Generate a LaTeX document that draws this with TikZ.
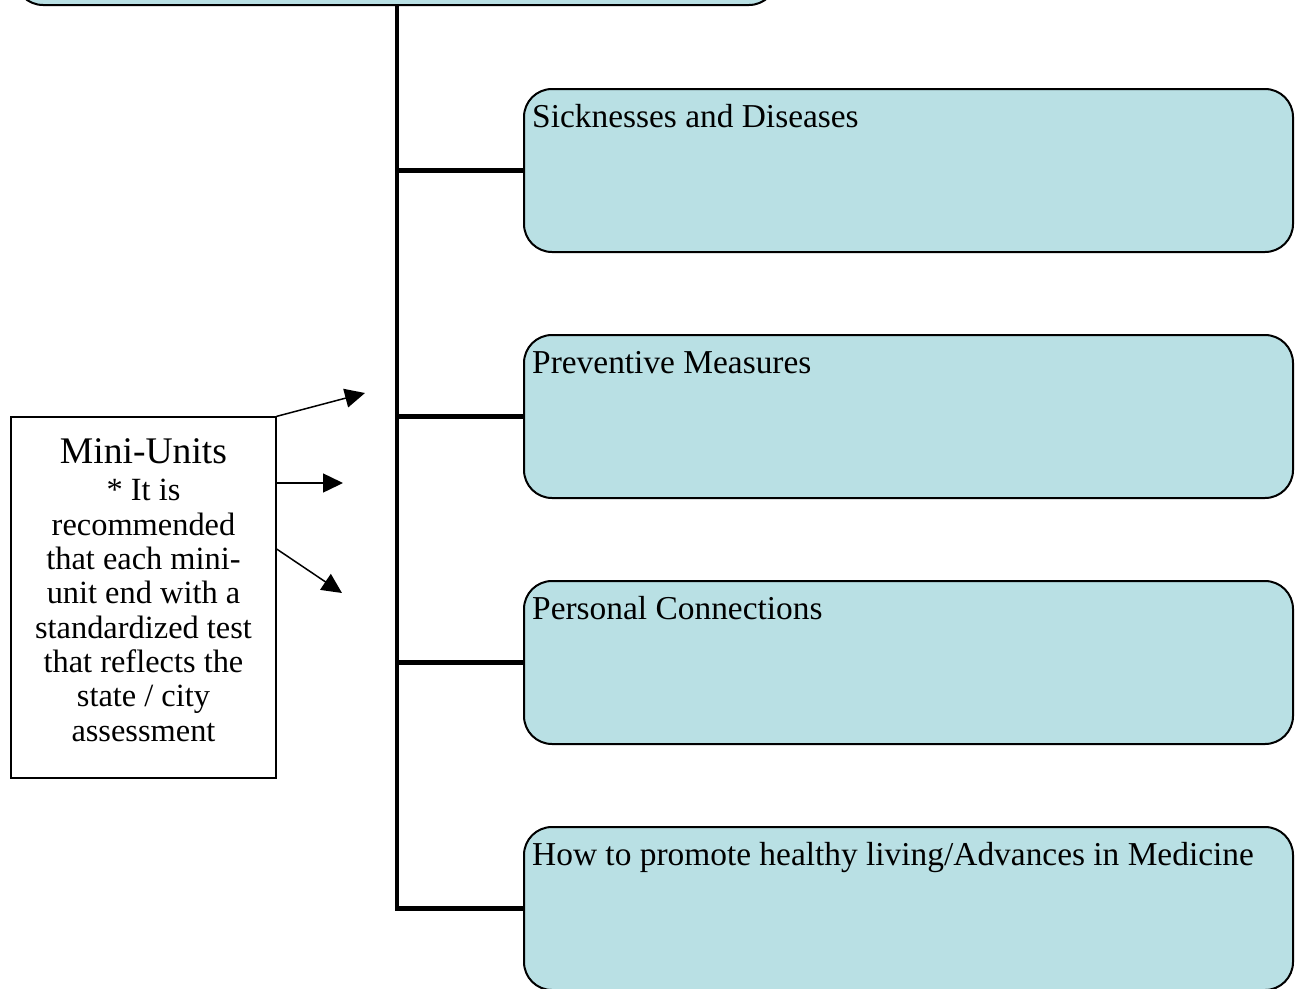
\documentclass[tikz,border=0pt]{standalone}
\usepackage{fontspec}
\setmainfont{Liberation Serif}
\usetikzlibrary{positioning,arrows.meta}
\definecolor{unitblue}{RGB}{185,224,228}

\begin{document}
\begin{tikzpicture}[x=1pt,y=-1pt,
		unitbox/.style={rectangle, rounded corners=28pt, draw=black, fill=unitblue, line width=2pt, minimum width=769pt, minimum height=163pt},
		unittext/.style={anchor=base west, inner sep=0pt, font=\fontsize{33.4}{40}\selectfont},
		trunk/.style={line width=4.5pt},
		pointer/.style={line width=1.5pt, -{Triangle[length=20pt,width=19pt]}}]
		\clip (0,0) rectangle (1295,988);
		\node[unitbox, minimum width=762pt, minimum height=120pt] (top) at (396,-55) {};
		\node[unitbox] (sick) at (908.5,170.5) {};
		\node[unitbox] (prev) at (908.5,416.5) {};
		\node[unitbox] (pers) at (908.5,662.5) {};
		\node[unitbox] (promo) at (908.5,908.5) {};
		\node[unittext] (sicktxt) at ([shift={(9,39)}]sick.north west) {Sicknesses and Diseases};
		\node[unittext] (prevtxt) at ([shift={(9,39)}]prev.north west) {Preventive Measures};
		\node[unittext] (perstxt) at ([shift={(9,39)}]pers.north west) {Personal Connections};
		\node[unittext] (promotxt) at ([shift={(9,39)}]promo.north west) {How to promote healthy living/Advances in Medicine};
		\node[draw, line width=1.3pt, minimum width=265pt, minimum height=361pt, inner sep=0pt] (mini) at (143.5,597.5) {};
		\node[align=center, inner sep=0pt, font=\fontsize{32.4}{34.3}\selectfont] (minitxt) at ([yshift=7.5pt]mini.center)
			{{\fontsize{37.6}{38}\selectfont Mini-Units}\\[3pt] * It is\\ recommended\\ that each mini-\\ unit end with a\\ standardized test\\ that reflects the\\ state / city\\ assessment};
		\coordinate (spine) at (397,0);
		\draw[trunk] (top.south -| spine) |- (promo.west);
		\draw[trunk] (spine |- sick.west) -- (sick.west);
		\draw[trunk] (spine |- prev.west) -- (prev.west);
		\draw[trunk] (spine |- pers.west) -- (pers.west);
		\coordinate (aimhigh) at (365,393);
		\coordinate (aimmid) at (343,483);
		\coordinate (aimlow) at (342,593);
		\draw[pointer] (mini.north east) -- (aimhigh);
		\draw[pointer] (mini.east |- aimmid) -- (aimmid);
		\draw[pointer] ([yshift=48.5pt]mini.east) -- (aimlow);
	\end{tikzpicture}
\end{document}
